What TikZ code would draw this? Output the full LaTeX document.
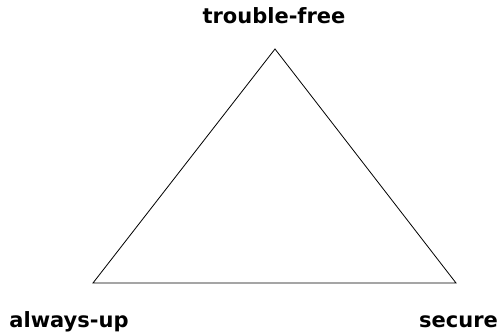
\documentclass[tikz,border=0pt]{standalone}
\usepackage{fontspec}
\setmainfont{DejaVu Sans}
\usetikzlibrary{positioning}

\begin{document}
\begin{tikzpicture}[x=1pt, y=1pt, font=\fontsize{21}{24}\selectfont\bfseries,
    corner/.style={inner sep=0pt, anchor=base}]
  \useasboundingbox (0,0) rectangle (499,333);
  % corners of the triangle
  \coordinate (top) at (275,284);
  \coordinate (left) at (93,50);
  \coordinate (right) at (456,50);
  \draw[line width=0.8pt, line join=miter] (top) -- (right) -- (left) -- cycle;
  % labels
  \node[corner] (trouble) at (274,309) {trouble-free};
  \node[corner] (always) at (69,6) {always-up};
  \node[corner] (secure) at (458.5,6) {secure};
\end{tikzpicture}
\end{document}
